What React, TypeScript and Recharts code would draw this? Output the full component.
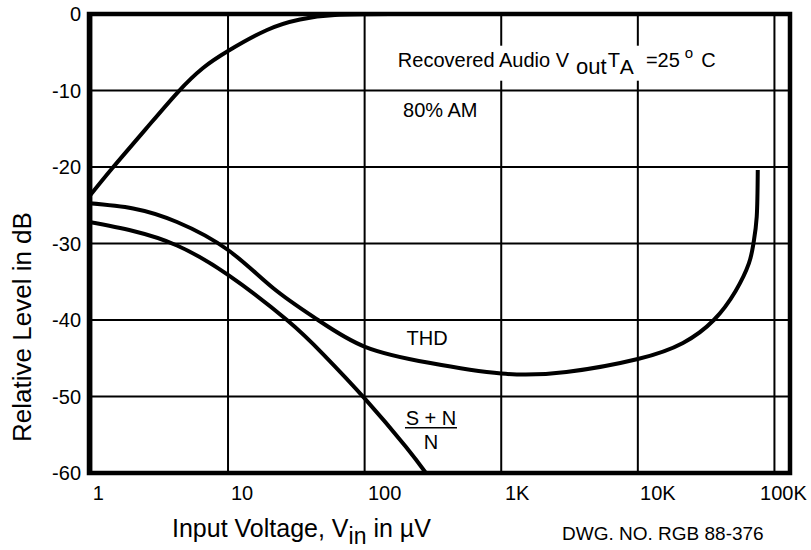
import React from "react";
import {
  LineChart,
  Line,
  XAxis,
  YAxis,
  CartesianGrid,
  ReferenceArea,
  ReferenceDot,
  Label,
} from "recharts";

// ─── Data ───────────────────────────────────────────────────────────────────

const X_DOMAIN = [0.96, 130000];
const X_TICKS = [1, 10, 100, 1000, 10000, 100000];
const X_TICK_LABELS = ["1", "10", "100", "1K", "10K", "100K"];
const Y_TICKS = [-60, -50, -40, -30, -20, -10, 0];

// Recovered audio, 80% AM
const AUDIO_VIN = [0.96, 1.415, 2.47, 4.3, 6.56, 10, 19.3, 33.65, 60.7, 153];
const AUDIO_DB = [-23.9, -20.2, -15.15, -10.2, -7.06, -4.84, -2.09, -0.72, -0.13, 0];

// THD
const THD_VIN = [
  0.96, 2.02, 4.23, 10, 21.35, 45.6, 100.7, 296, 1000, 3000, 10000, 21400,
  36000, 52000, 65000, 70200, 74200, 75500,
];
const THD_DB = [
  -24.75, -25.42, -27.19, -30.85, -35.82, -40, -43.5, -45.6, -47.0, -46.8,
  -45.1, -43.0, -40, -36.2, -32.6, -30, -26.5, -20.4,
];

// (S+N)/N
const SN_VIN = [0.96, 2.02, 4.23, 10, 27, 49.6, 100.7, 201, 281];
const SN_DB = [-27.2, -28.37, -30.26, -34.1, -40, -44.45, -50.3, -56.6, -60];

// ─── Styling ────────────────────────────────────────────────────────────────

const FONT = '"Liberation Sans", Arial, Helvetica, sans-serif';
const INK = "#000";
// the printed tick labels sit a little right of their grid lines
const X_TICK_NUDGE = [7, 14, 20, 16, 20, 9];

const toRows = (vin: number[], db: number[]) =>
  vin.map((v, i) => ({ vin: v, db: db[i] }));

const audioRows = toRows(AUDIO_VIN, AUDIO_DB);
const thdRows = toRows(THD_VIN, THD_DB);
const snRows = toRows(SN_VIN, SN_DB);

// ─── Ticks & labels ─────────────────────────────────────────────────────────

function XTick(props: any) {
  const { x, y, payload } = props;
  const i = X_TICKS.indexOf(payload.value);
  return (
    <text
      x={x + (X_TICK_NUDGE[i] ?? 0)}
      y={y}
      dy="0.71em"
      textAnchor="middle"
      fontSize={20}
      fontFamily={FONT}
      fill={INK}
    >
      {X_TICK_LABELS[i]}
    </text>
  );
}

function XTitle(props: any) {
  const { x, y } = props.viewBox;
  return (
    <g fontFamily={FONT} fill={INK}>
      <text x={x + 83} y={y + 64} fontSize={25}>
        Input Voltage, V
        <tspan dy={7} fontSize={23}>in</tspan>
        <tspan dy={-7}> in µV</tspan>
      </text>
      <text x={x + 473} y={y + 67} fontSize={19}>
        DWG. NO. RGB 88-376
      </text>
    </g>
  );
}

function YTitle(props: any) {
  const { x, y, width } = props.viewBox;
  const cx = x + width - 67;
  const cy = y + 313;
  return (
    <text
      x={cx}
      y={cy}
      transform={`rotate(-90, ${cx}, ${cy})`}
      textAnchor="middle"
      dominantBaseline="central"
      fontSize={26}
      fontFamily={FONT}
      fill={INK}
    >
      Relative Level in dB
    </text>
  );
}

function note(render: (x: number, y: number) => React.ReactNode) {
  return (p: any) => {
    const vb = p.viewBox;
    return render(vb.x + vb.width / 2, vb.y + vb.height / 2);
  };
}

const headerNote = note((x, y) => (
  <g fontFamily={FONT} fill={INK} fontSize={20}>
    <rect x={x - 3} y={y - 21} width={326} height={35} fill="#fff" />
    <text x={x} y={y}>
      Recovered Audio V
      <tspan dx={7} dy={7} fontSize={22}>out</tspan>
      <tspan dx={1} dy={-7}>T</tspan>
      <tspan dy={7} fontSize={21}>A</tspan>
      <tspan dx={12} dy={-7}>=25</tspan>
      <tspan dx={5} dy={-9} fontSize={15}>o</tspan>
      <tspan dx={8} dy={9}>C</tspan>
    </text>
  </g>
));

const amNote = note((x, y) => (
  <text x={x} y={y} fontSize={20} fontFamily={FONT} fill={INK}>
    80% AM
  </text>
));

const thdNote = note((x, y) => (
  <text x={x} y={y} textAnchor="middle" fontSize={20} fontFamily={FONT} fill={INK}>
    THD
  </text>
));

const snNote = note((x, y) => (
  <g fontFamily={FONT} fill={INK} fontSize={20}>
    <text x={x} y={y} textAnchor="middle">S + N</text>
    <line x1={x - 26} x2={x + 26} y1={y + 3} y2={y + 3} stroke={INK} strokeWidth={1.5} />
    <text x={x} y={y + 24} textAnchor="middle">N</text>
  </g>
));

// ─── Chart ──────────────────────────────────────────────────────────────────

export default function App() {
  return (
    <div
      style={{
        position: "absolute",
        left: 0,
        top: 0,
        width: 811,
        height: 550,
        background: "#fff",
      }}
    >
      <LineChart
        width={811}
        height={550}
        margin={{ top: 14, right: 21, bottom: 7, left: 29 }}
      >
        <CartesianGrid stroke={INK} strokeWidth={2} />
        <XAxis
          dataKey="vin"
          type="number"
          scale="log"
          domain={X_DOMAIN}
          allowDataOverflow
          ticks={X_TICKS}
          tick={<XTick />}
          tickLine={false}
          axisLine={false}
          tickMargin={7}
          height={70}
        >
          <Label content={<XTitle />} />
        </XAxis>
        <YAxis
          type="number"
          domain={[-60, 0]}
          ticks={Y_TICKS}
          allowDataOverflow
          tick={{ fontSize: 20, fill: INK, fontFamily: FONT }}
          tickLine={false}
          axisLine={false}
          width={60}
        >
          <Label content={<YTitle />} />
        </YAxis>

        <ReferenceDot x={175} y={-6.89} r={1} fill="none" stroke="none" label={headerNote} />
        <ReferenceDot x={191} y={-13.46} r={1} fill="none" stroke="none" label={amNote} />
        <ReferenceDot x={287} y={-43.27} r={1} fill="none" stroke="none" label={thdNote} />
        <ReferenceDot x={306} y={-53.7} r={1} fill="none" stroke="none" label={snNote} />

        <Line
          data={audioRows}
          dataKey="db"
          type="natural"
          stroke={INK}
          strokeWidth={4}
          dot={false}
          activeDot={false}
          isAnimationActive={false}
        />
        <Line
          data={thdRows}
          dataKey="db"
          type="natural"
          stroke={INK}
          strokeWidth={4}
          dot={false}
          activeDot={false}
          isAnimationActive={false}
        />
        <Line
          data={snRows}
          dataKey="db"
          type="natural"
          stroke={INK}
          strokeWidth={4}
          dot={false}
          activeDot={false}
          isAnimationActive={false}
        />

        {/* heavy frame round the plot */}
        <ReferenceArea
          x1={X_DOMAIN[0]}
          x2={X_DOMAIN[1]}
          y1={-60}
          y2={0}
          fill="none"
          stroke={INK}
          strokeWidth={4.5}
          ifOverflow="visible"
        />
      </LineChart>
    </div>
  );
}
